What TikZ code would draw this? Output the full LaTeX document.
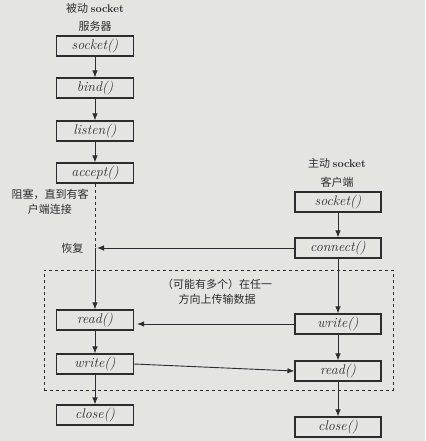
\documentclass[tikz,border=0pt]{standalone}
\usepackage{fontspec}
\newfontfamily\cjk{Noto Sans CJK SC}
\usetikzlibrary{arrows.meta}
\definecolor{paper}{RGB}{228,228,225}
\definecolor{ink}{RGB}{45,45,45}
\begin{document}
\begin{tikzpicture}[x=1pt,y=-1pt,
  fn/.style={draw=ink, line width=1.1pt, minimum height=20pt, inner sep=0pt, font=\itshape\fontsize{14}{15}\selectfont, text=ink},
  lf/.style={fn, minimum width=77pt},
  rt/.style={fn, minimum width=86pt},
  lbl/.style={font=\cjk\fontsize{11}{15}\selectfont, text=ink, align=center},
  arr/.style={draw=ink, line width=0.9pt, -{Latex[length=7pt,width=5.5pt]}}]
\fill[paper] (0,0) rectangle (425,441);
\useasboundingbox (0,0) rectangle (425,441);
% group box
\node[draw=ink, dashed, line width=0.9pt, minimum width=349pt, minimum height=120pt, inner sep=0pt] (grp) at (218.5,330) {};
\node[lbl] (txt) at (217,292) {（可能有多个）在任一\\方向上传输数据};
% server
\node[lbl] (h1) at (95,8) {被动 {\rmfamily\bfseries socket}};
\node[lbl] (h2) at (95,26) {服务器};
\node[lf] (s1) at (95,46) {socket()};
\node[lf] (b1) at (95,88) {bind()};
\node[lf] (l1) at (95,131) {listen()};
\node[lf] (a1) at (95,173) {accept()};
\node[lbl] (blk) at (50,202) {阻塞，直到有客\\户端连接};
\coordinate (res) at (95,248);
\node[lbl, anchor=east] (hf) at (87,248) {恢复};
\node[lf] (r1) at (95,320) {read()};
\node[lf] (w1) at (95,364) {write()};
\node[lf] (c1) at (95,415) {close()};
% client
\node[lbl] (h3) at (337,163) {主动 {\rmfamily\bfseries socket}};
\node[lbl] (h4) at (337,182) {客户端};
\node[rt] (s2) at (338,202) {socket()};
\node[rt] (cn) at (338,248) {connect()};
\node[rt] (w2) at (338,324) {write()};
\node[rt] (r2) at (338,371) {read()};
\node[rt] (c2) at (338,427) {close()};
% connectors
\draw[arr] (s1) -- (b1);
\draw[arr] (b1) -- (l1);
\draw[arr] (l1) -- (a1);
\draw[draw=ink, dashed, line width=0.9pt] (a1.south) -- (res);
\draw[arr] (res) -- (r1);
\draw[arr] (r1) -- (w1);
\draw[arr] (w1) -- (c1);
\draw[arr] (s2) -- (cn);
\draw[arr] (cn) -- (w2);
\draw[arr] (w2) -- (r2);
\draw[arr] (r2) -- (c2);
\draw[arr, shorten >=2pt] (cn.west) -- (res);
\draw[arr, shorten >=3pt] (w2.west) -- (r1.east |- w2.west);
\draw[arr] (w1.east) -- (r2.west);
\end{tikzpicture}
\end{document}
